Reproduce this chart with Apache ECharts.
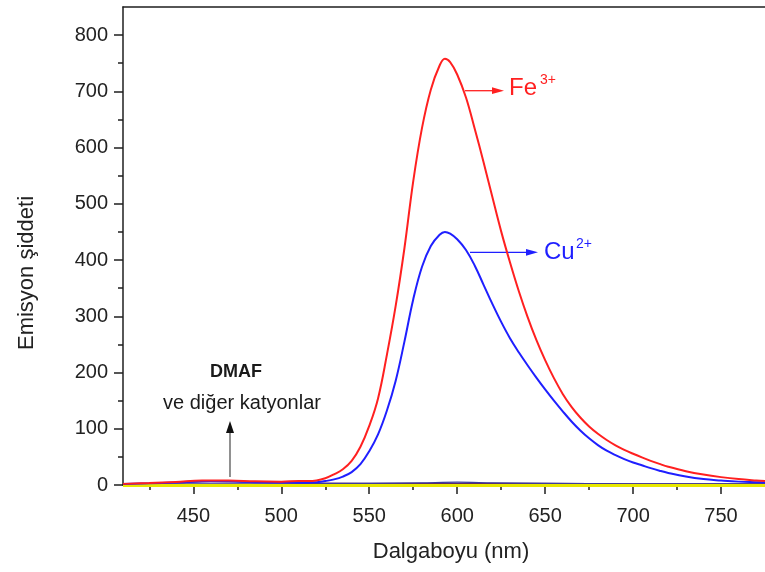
<!DOCTYPE html>
<html>
<head>
<meta charset="utf-8">
<script src="https://cdn.jsdelivr.net/npm/echarts@6/dist/echarts.min.js"></script>
<style>
html,body{margin:0;padding:0;background:#fff;}
#chart{width:765px;height:572px;}
</style>
</head>
<body>
<div id="chart"></div>
<script>
// Wavelength grid (nm) for the two emission curves
const wavelengths = [410,425,440,455,470,485,500,510,
  515,520,525,530,535,540,545,550,555,560,565,570,575,580,585,590,593,596,600,605,610,615,620,
  625,630,635,640,645,650,655,660,665,670,675,680,685,690,695,700,705,710,715,720,
  730,740,750,760,770,775];
// Fe3+ emission
const fe3 = [2,3.5,5.5,8,8,6.5,6,7,
  7,8,12,19,28,43,68,105,154,231,318,421,540,635,703,746,758,752,730,689,633,574,512,
  451,396,345,299,258,222,190,162,139,120,104,91,80,70.5,62.5,55.5,49,43,37.5,32.5,
  24.5,18.5,14,10.5,8,7];
// Cu2+ emission
const cu2 = [2,3,4.5,6.5,6.5,5,4.5,4,
  4,5,7,10,15,23,37,60,90,132,185,255,330,388,425,445,450,447,437,418,390,356,322,
  290,261,236,213,191,170,150,131,113,97,83,71,61,53,46,40,35,30,25.5,21.5,
  15,10.5,8,6,5,4.5];
// DMAF and other cations (near-zero baselines)
const baseWavelengths = [410,440,460,480,500,550,580,600,620,650,700,750,775];
const dmaf =        [1,4,6,5,4,3,3,3,3,3,2,2,2];
const otherNavy =   [1,2,2,2,2,3,4,5,4,3,2,2,2];
const otherGray =   [0,1,1,1,1,1,1,1,1,1,1,1,1];
const otherYellow = [-1,-1,-1,-1,-1,-1,-1,-1,-1,-1,-1,-1,-1];
// Tick values
const xMajorTicks = [450,500,550,600,650,700,750];
const xMinorTicks = [425,475,525,575,625,675,725];
const yMajorTicks = [0,100,200,300,400,500,600,700,800];
const yMinorTicks = [50,150,250,350,450,550,650,750];
// Texts
const xTitle = 'Dalgaboyu (nm)';
const yTitle = 'Emisyon şiddeti';

const pair = (xs, ys) => xs.map((w,i)=>[w,ys[i]]);
const FONT = 'Liberation Sans, Arial, sans-serif';
const AX = '#1f1f1f';
const X_MIN = 410, X_MAX = 775;

const chart = echarts.init(document.getElementById('chart'), null, {renderer:'canvas'});
const mkLine = (name, xs, ys, color, width, z, smooth) => ({
  name, type:'line', data: pair(xs, ys), showSymbol:false, smooth:smooth, clip:false,
  lineStyle:{color, width}, itemStyle:{color}, z
});
chart.setOption({
  animation:false,
  backgroundColor:'#fff',
  grid:{left:123, right:0, top:7, bottom:87},
  xAxis:[
    {type:'value', min:X_MIN, max:X_MAX, position:'bottom',
     axisLine:{show:true, onZero:false, lineStyle:{color:AX, width:1.5}},
     axisTick:{show:true, customValues:xMajorTicks, length:9, lineStyle:{color:AX, width:1.5}},
     axisLabel:{customValues:xMajorTicks, fontSize:20, color:'#222', fontFamily:FONT, margin:21},
     splitLine:{show:false}},
    {type:'value', min:X_MIN, max:X_MAX, position:'bottom',
     axisLine:{show:false},
     axisTick:{show:true, customValues:xMinorTicks, length:5, lineStyle:{color:AX, width:1.5}},
     axisLabel:{show:false}, splitLine:{show:false}},
    {type:'value', min:X_MIN, max:X_MAX, position:'top',
     axisLine:{show:true, onZero:false, lineStyle:{color:AX, width:1.5}},
     axisTick:{show:false}, axisLabel:{show:false}, splitLine:{show:false}}
  ],
  yAxis:[
    {type:'value', min:0, max:850, position:'left',
     axisLine:{show:true, onZero:false, lineStyle:{color:AX, width:1.5}},
     axisTick:{show:true, customValues:yMajorTicks, length:9, lineStyle:{color:AX, width:1.5}},
     axisLabel:{customValues:yMajorTicks, fontSize:20, color:'#222', fontFamily:FONT, margin:15},
     splitLine:{show:false}},
    {type:'value', min:0, max:850, position:'left',
     axisLine:{show:false},
     axisTick:{show:true, customValues:yMinorTicks, length:5, lineStyle:{color:AX, width:1.5}},
     axisLabel:{show:false}, splitLine:{show:false}}
  ],
  series:[
    mkLine('Diğer (gri)', baseWavelengths, otherGray, '#8a8a7a', 1.2, 3, 0.3),
    mkLine('DMAF', baseWavelengths, dmaf, '#5a2a6a', 1.2, 3, 0.3),
    mkLine('Diğer (lacivert)', baseWavelengths, otherNavy, '#3b3ba0', 1.2, 3, 0.3),
    mkLine('Diğer (sarı)', baseWavelengths, otherYellow, '#e8e800', 3, 4, 0.3),
    mkLine('Cu2+', wavelengths, cu2, '#1f1fff', 2, 5, 0.4),
    mkLine('Fe3+', wavelengths, fe3, '#ff2020', 2, 6, 0.4)
  ],
  graphic:[
    {type:'text', x:27, y:273, rotation:Math.PI/2,
     style:{text:yTitle, font:'22px '+FONT, fill:'#222', align:'center', verticalAlign:'middle'}},
    {type:'text', x:451, y:552,
     style:{text:xTitle, font:'22px '+FONT, fill:'#222', align:'center', verticalAlign:'middle'}},
    // Fe3+ arrow and label
    {type:'line', shape:{x1:465, y1:90.7, x2:494, y2:90.7}, style:{stroke:'#ff2020', lineWidth:1.3}},
    {type:'polygon', shape:{points:[[492,87.3],[504,90.7],[492,94.1]]}, style:{fill:'#ff2020'}},
    {type:'text', x:509, y:88.5, style:{text:'Fe', font:'24px '+FONT, fill:'#ff2020', align:'left', verticalAlign:'middle'}},
    {type:'text', x:540, y:80, style:{text:'3+', font:'14px '+FONT, fill:'#ff2020', align:'left', verticalAlign:'middle'}},
    // Cu2+ arrow and label
    {type:'line', shape:{x1:470, y1:252.3, x2:528, y2:252.3}, style:{stroke:'#1f1fff', lineWidth:1.3}},
    {type:'polygon', shape:{points:[[526,248.9],[538,252.3],[526,255.7]]}, style:{fill:'#1f1fff'}},
    {type:'text', x:544, y:252, style:{text:'Cu', font:'24px '+FONT, fill:'#1f1fff', align:'left', verticalAlign:'middle'}},
    {type:'text', x:576, y:244, style:{text:'2+', font:'14px '+FONT, fill:'#1f1fff', align:'left', verticalAlign:'middle'}},
    // DMAF annotation
    {type:'text', x:236, y:372, style:{text:'DMAF', font:'bold 18px '+FONT, fill:'#1a1a1a', align:'center', verticalAlign:'middle'}},
    {type:'text', x:242, y:403, style:{text:'ve diğer katyonlar', font:'20px '+FONT, fill:'#1a1a1a', align:'center', verticalAlign:'middle'}},
    {type:'line', shape:{x1:230, y1:477, x2:230, y2:430}, style:{stroke:'#555', lineWidth:1.3}},
    {type:'polygon', shape:{points:[[226,433],[230,421],[234,433]]}, style:{fill:'#111'}}
  ]
});
</script>
</body>
</html>
